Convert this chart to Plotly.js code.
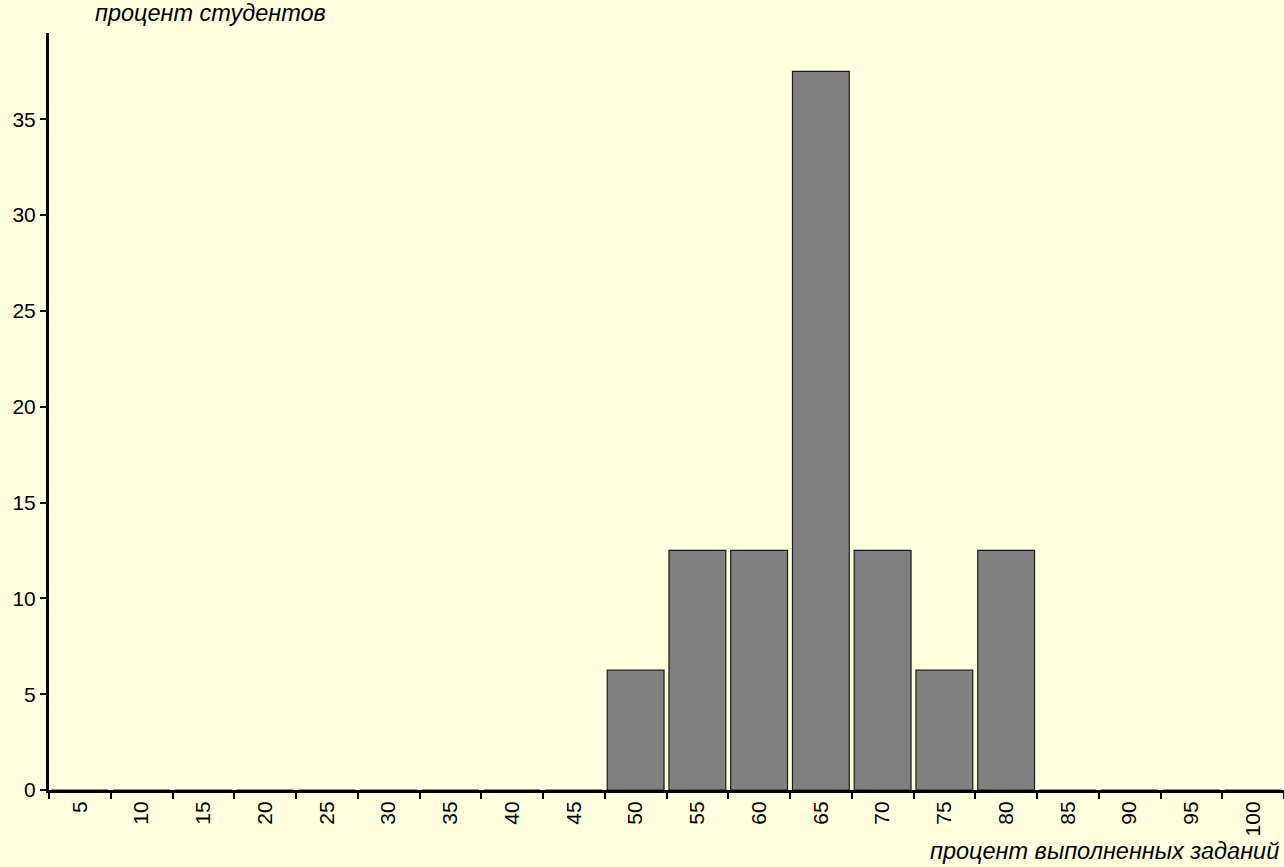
<!DOCTYPE html>
<html>
<head>
<meta charset="utf-8">
<script src="https://cdn.plot.ly/plotly-3.0.1.min.js"></script>
<style>html,body{margin:0;padding:0;background:#FFFFE0;}</style>
</head>
<body>
<div id="chart" style="width:1284px;height:867px;"></div>
<script>
const categories = ['5','10','15','20','25','30','35','40','45','50','55','60','65','70','75','80','85','90','95','100'];
const percentStudents = [0,0,0,0,0,0,0,0,0,6.25,12.5,12.5,37.5,12.5,6.25,12.5,0,0,0,0];
const yTickVals = [0,5,10,15,20,25,30,35];
const yTitle = 'процент студентов';
const xTitle = 'процент выполненных заданий';

const tickFont = {family: '"Liberation Sans Narrow", "Liberation Sans", Arial, sans-serif', size: 21, color: '#000'};
const titleFont = {family: '"Liberation Sans", Arial, sans-serif', size: 23.5, color: '#000'};

Plotly.newPlot('chart', [{
  type: 'bar',
  x: categories,
  y: percentStudents,
  marker: {color: '#808080', line: {color: '#1a1a1a', width: 1.2}},
  hoverinfo: 'x+y'
}], {
  width: 1284, height: 867,
  paper_bgcolor: '#FFFFE0', plot_bgcolor: '#FFFFE0',
  margin: {l: 49, r: 0, t: 33, b: 77},
  bargap: 0.08,
  showlegend: false,
  xaxis: {
    type: 'category',
    range: [-0.5, 19.5],
    tickson: 'boundaries',
    ticks: 'outside', ticklen: 6, tickwidth: 2, tickcolor: '#000',
    tickangle: -90,
    tickfont: tickFont,
    showline: true, linecolor: '#000', linewidth: 3,
    showgrid: false, zeroline: false, fixedrange: true
  },
  yaxis: {
    range: [0, 39.5],
    tickvals: yTickVals,
    ticks: 'outside', ticklen: 6, tickwidth: 2, tickcolor: '#000',
    tickfont: tickFont,
    showline: true, linecolor: '#000', linewidth: 3,
    showgrid: false, zeroline: false, fixedrange: true
  },
  annotations: [
    {text: '<i>' + yTitle + '</i>', xref: 'paper', yref: 'paper', x: 44/1235, y: 1, xanchor: 'left', yanchor: 'bottom', yshift: 5, showarrow: false, font: titleFont},
    {text: '<i>' + xTitle + '</i>', xref: 'paper', yref: 'paper', x: 1, y: 0, xanchor: 'right', yanchor: 'top', xshift: -3, yshift: -46, showarrow: false, font: titleFont}
  ]
}, {displayModeBar: false, staticPlot: true});
</script>
</body>
</html>
